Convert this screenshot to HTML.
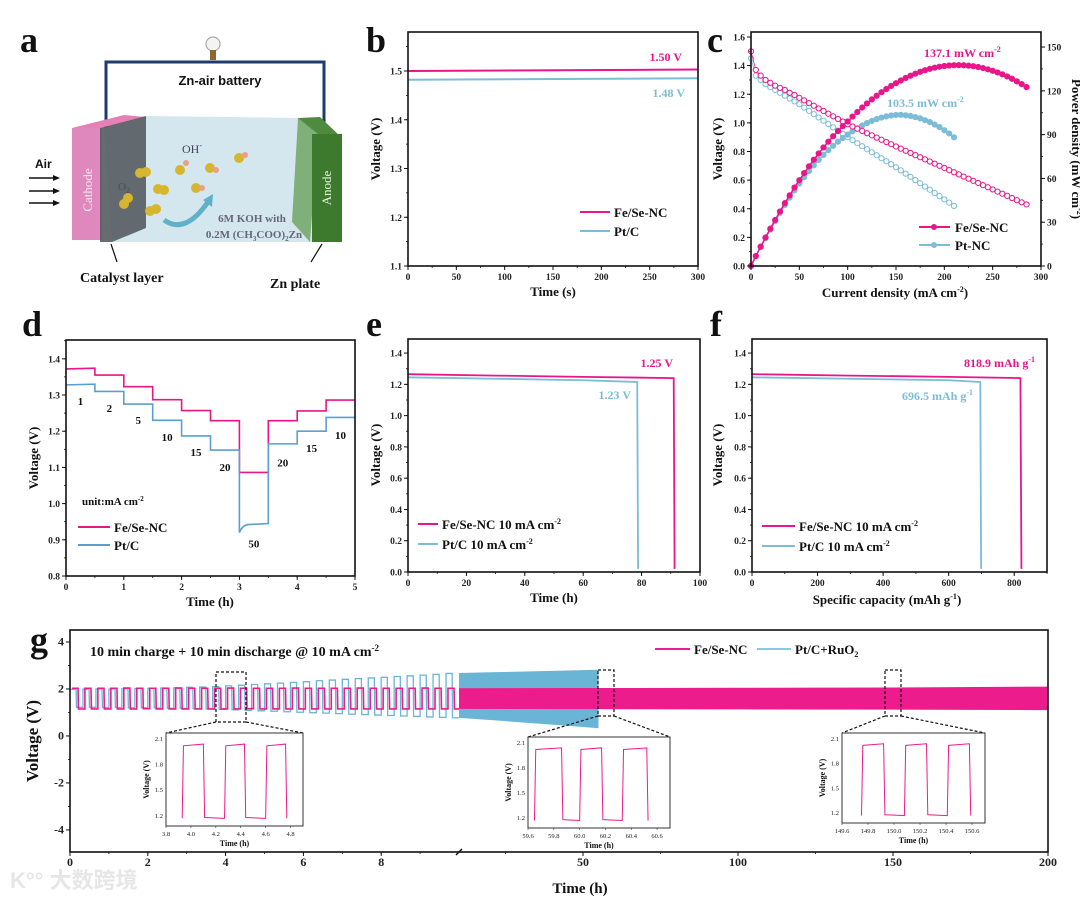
<!DOCTYPE html>
<html><head><meta charset="utf-8"><style>
html,body{margin:0;padding:0;background:#fff;}
svg{display:block;font-family:"Liberation Serif",serif;}
.tk{font-size:9.5px;font-weight:bold;fill:#222;}
.at{font-size:13px;font-weight:bold;fill:#111;}
.pl{font-size:36px;font-weight:bold;fill:#111;}
.lg{font-size:13px;font-weight:bold;fill:#111;}
</style></head><body>
<svg id="fig" width="1080" height="900" viewBox="0 0 1080 900">
<rect x="0" y="0" width="1080" height="900" fill="#fff"/>

<!-- Panel a schematic -->
<g>
<text x="20" y="52" class="pl">a</text>
<polyline points="106,128 106,62 324,62 324,135" fill="none" stroke="#1e3a6e" stroke-width="3"/>
<circle cx="213" cy="44" r="7" fill="#f4f4f0" stroke="#999" stroke-width="1"/>
<rect x="210" y="50" width="6" height="10" fill="#8a6a30"/>
<text x="220" y="85" text-anchor="middle" font-family="Liberation Sans,sans-serif" font-size="13" font-weight="bold" fill="#111">Zn-air battery</text>
<polygon points="104,128 146,116 298,118 340,136 340,242 112,242" fill="#cfe4ec" opacity="0.9"/>
<polygon points="72,128 124,115 146,117 100,128" fill="#e880b8"/>
<rect x="72" y="128" width="30" height="112" fill="#df88bd"/>
<text transform="translate(92,190) rotate(-90)" text-anchor="middle" font-size="13" fill="#f5e6ef">Cathode</text>
<polygon points="100,128 146,116 146,228 112,242 100,242" fill="#555c60" opacity="0.9"/>
<polygon points="298,118 318,133 310,242 292,222" fill="#7fb07a"/>
<polygon points="298,118 320,117 342,138 318,134" fill="#4f8a3f"/>
<rect x="312" y="134" width="30" height="108" fill="#3e7a2e"/>
<text transform="translate(331,188) rotate(-90)" text-anchor="middle" font-size="13" fill="#e6f0e0">Anode</text>
<g fill="#d6b62e">
<circle cx="140" cy="173" r="5"/><circle cx="146" cy="172" r="5"/>
<circle cx="158" cy="189" r="5"/><circle cx="164" cy="190" r="5"/>
<circle cx="124" cy="204" r="5"/><circle cx="128" cy="198" r="5"/>
<circle cx="150" cy="211" r="5"/><circle cx="156" cy="209" r="5"/>
<circle cx="180" cy="170" r="5"/><circle cx="210" cy="168" r="5"/><circle cx="196" cy="188" r="5"/><circle cx="239" cy="158" r="5"/>
</g>
<g fill="#e8a08a">
<circle cx="186" cy="163" r="3"/><circle cx="216" cy="170" r="3"/><circle cx="202" cy="188" r="3"/><circle cx="245" cy="155" r="3"/>
</g>
<text x="182" y="153" font-size="12" fill="#445">OH<tspan dy="-5" font-size="8">-</tspan></text>
<text x="118" y="190" font-size="11" fill="#4a5256">O<tspan dy="3" font-size="8">2</tspan></text>
<path d="M164,220 Q185,235 208,202" fill="none" stroke="#5fb0c8" stroke-width="5"/>
<polygon points="203,200 213,194 212,207" fill="#5fb0c8"/>
<text x="252" y="222" text-anchor="middle" font-size="11" font-weight="bold" fill="#667">6M KOH with</text>
<text x="254" y="238" text-anchor="middle" font-size="11" font-weight="bold" fill="#667">0.2M (CH<tspan dy="3" font-size="7">3</tspan><tspan dy="-3">COO)</tspan><tspan dy="3" font-size="7">2</tspan><tspan dy="-3">Zn</tspan></text>
<text x="35" y="168" font-family="Liberation Sans,sans-serif" font-size="12" font-weight="bold" fill="#111">Air</text>
<g stroke="#111" stroke-width="1.5">
<line x1="29" y1="178" x2="56" y2="178"/><line x1="29" y1="191" x2="56" y2="191"/><line x1="29" y1="203" x2="56" y2="203"/>
</g>
<g fill="#111"><polygon points="60,178 53,175 53,181"/><polygon points="60,191 53,188 53,194"/><polygon points="60,203 53,200 53,206"/></g>
<line x1="111" y1="244" x2="117" y2="262" stroke="#111" stroke-width="1.2"/>
<line x1="322" y1="244" x2="311" y2="262" stroke="#111" stroke-width="1.2"/>
<text x="80" y="282" font-size="14" font-weight="bold" fill="#111">Catalyst layer</text>
<text x="270" y="288" font-size="14" font-weight="bold" fill="#111">Zn plate</text>
</g>

<text x="366" y="52" class="pl">b</text>
<text x="707" y="52" class="pl">c</text>
<text x="22" y="336" class="pl">d</text>
<text x="366" y="336" class="pl">e</text>
<text x="710" y="336" class="pl">f</text>
<text x="30" y="652" class="pl">g</text>

<g id="pb"></g>
<g id="pc"></g>
<g id="pd"></g>
<g id="pe"></g>
<g id="pf"></g>
<g id="pg"></g>

<!-- panel b text -->
<text transform="translate(380,149) rotate(-90)" text-anchor="middle" class="at">Voltage (V)</text>
<text x="553" y="296" text-anchor="middle" class="at">Time (s)</text>
<text x="682" y="61" text-anchor="end" font-size="12" font-weight="bold" fill="#e8168a">1.50 V</text>
<text x="685" y="97" text-anchor="end" font-size="12" font-weight="bold" fill="#7bbcd6">1.48 V</text>
<g>
<line x1="580" y1="212" x2="610" y2="212" stroke="#e8168a" stroke-width="2"/><text x="614" y="217" class="lg">Fe/Se-NC</text>
<line x1="580" y1="231" x2="610" y2="231" stroke="#7bbcd6" stroke-width="2"/><text x="614" y="236" class="lg">Pt/C</text>
</g>

<!-- panel c text -->
<text transform="translate(722,149) rotate(-90)" text-anchor="middle" class="at">Voltage (V)</text>
<text transform="translate(1072,149) rotate(90)" text-anchor="middle" class="at">Power density (mW cm<tspan dy="-5" font-size="8">-2</tspan><tspan dy="5">)</tspan></text>
<text x="895" y="297" text-anchor="middle" class="at">Current density (mA cm<tspan dy="-5" font-size="8">-2</tspan><tspan dy="5">)</tspan></text>
<text x="924" y="57" font-size="12" font-weight="bold" fill="#e8168a">137.1 mW cm<tspan dy="-5" font-size="8">-2</tspan></text>
<text x="887" y="107" font-size="12" font-weight="bold" fill="#7bbcd6">103.5 mW cm<tspan dy="-5" font-size="8">-2</tspan></text>
<g>
<line x1="919" y1="227" x2="950" y2="227" stroke="#e8168a" stroke-width="2"/><circle cx="934" cy="227" r="3" fill="#e8168a"/><text x="955" y="232" class="lg">Fe/Se-NC</text>
<line x1="919" y1="245" x2="950" y2="245" stroke="#7bbcd6" stroke-width="2"/><circle cx="934" cy="245" r="3" fill="#7bbcd6"/><text x="955" y="250" class="lg">Pt-NC</text>
</g>

<!-- panel d text -->
<text transform="translate(38,458) rotate(-90)" text-anchor="middle" class="at">Voltage (V)</text>
<text x="210" y="606" text-anchor="middle" class="at">Time (h)</text>
<text x="82" y="505" font-size="11" font-weight="bold" fill="#111">unit:mA cm<tspan dy="-4" font-size="7">-2</tspan></text>
<g>
<line x1="78" y1="527" x2="110" y2="527" stroke="#e8168a" stroke-width="2"/><text x="114" y="532" class="lg">Fe/Se-NC</text>
<line x1="78" y1="545" x2="110" y2="545" stroke="#5a9fd0" stroke-width="2"/><text x="114" y="550" class="lg">Pt/C</text>
</g>

<!-- panel e text -->
<text transform="translate(380,455) rotate(-90)" text-anchor="middle" class="at">Voltage (V)</text>
<text x="554" y="602" text-anchor="middle" class="at">Time (h)</text>
<text x="673" y="367" text-anchor="end" font-size="12" font-weight="bold" fill="#e8168a">1.25 V</text>
<text x="631" y="399" text-anchor="end" font-size="12" font-weight="bold" fill="#7bbcd6">1.23 V</text>
<g>
<line x1="418" y1="524" x2="438" y2="524" stroke="#e8168a" stroke-width="2"/><text x="442" y="529" class="lg">Fe/Se-NC 10 mA cm<tspan dy="-5" font-size="8">-2</tspan></text>
<line x1="418" y1="544" x2="438" y2="544" stroke="#7bbcd6" stroke-width="2"/><text x="442" y="549" class="lg">Pt/C 10 mA cm<tspan dy="-5" font-size="8">-2</tspan></text>
</g>

<!-- panel f text -->
<text transform="translate(722,455) rotate(-90)" text-anchor="middle" class="at">Voltage (V)</text>
<text x="887" y="604" text-anchor="middle" class="at">Specific capacity (mAh g<tspan dy="-5" font-size="8">-1</tspan><tspan dy="5">)</tspan></text>
<text x="1035" y="367" text-anchor="end" font-size="12" font-weight="bold" fill="#e8168a">818.9 mAh g<tspan dy="-5" font-size="8">-1</tspan></text>
<text x="973" y="400" text-anchor="end" font-size="12" font-weight="bold" fill="#7bbcd6">696.5 mAh g<tspan dy="-5" font-size="8">-1</tspan></text>
<g>
<line x1="762" y1="526" x2="795" y2="526" stroke="#e8168a" stroke-width="2"/><text x="799" y="531" class="lg">Fe/Se-NC 10 mA cm<tspan dy="-5" font-size="8">-2</tspan></text>
<line x1="762" y1="546" x2="795" y2="546" stroke="#7bbcd6" stroke-width="2"/><text x="799" y="551" class="lg">Pt/C 10 mA cm<tspan dy="-5" font-size="8">-2</tspan></text>
</g>

<!-- panel g text -->
<text transform="translate(38,741) rotate(-90)" text-anchor="middle" font-size="17" font-weight="bold" fill="#111">Voltage (V)</text>
<text x="580" y="893" text-anchor="middle" font-size="15" font-weight="bold" fill="#111">Time (h)</text>
<text x="90" y="656" font-size="14" font-weight="bold" fill="#111">10 min charge + 10 min discharge @ 10 mA cm<tspan dy="-5" font-size="9">-2</tspan></text>
<g>
<line x1="655" y1="649" x2="690" y2="649" stroke="#ec1c8c" stroke-width="2"/><text x="694" y="654" class="lg">Fe/Se-NC</text>
<line x1="757" y1="649" x2="791" y2="649" stroke="#6ab4d6" stroke-width="1.5"/><text x="795" y="654" class="lg">Pt/C+RuO<tspan dy="3" font-size="8">2</tspan></text>
</g>
<text x="10" y="888" font-family="Liberation Sans,'Noto Sans CJK SC',sans-serif" font-size="22" font-weight="bold" fill="#e6e6e6">K°° 大数跨境</text>
</svg>

<script>
const NS='http://www.w3.org/2000/svg';
const PINK='#e8168a', BLUE='#7bbcd6', DBLUE='#5a9fd0';

// ===== Panel b data =====
const bTime=[0,300];
const bFe=[1.500,1.503];
const bPt=[1.482,1.485];
const bXTicks=[0,50,100,150,200,250,300];
const bYTicks=[1.1,1.2,1.3,1.4,1.5];

// ===== Panel c data =====
const cJFe=[0,5,10,15,20,25,30,35,40,45,50,55,60,65,70,75,80,85,90,95,100,105,110,115,120,125,130,135,140,145,150,155,160,165,170,175,180,185,190,195,200,205,210,215,220,225,230,235,240,245,250,255,260,265,270,275,280,285];
const cVFe=[1.50,1.37,1.33,1.30,1.28,1.26,1.245,1.23,1.21,1.195,1.175,1.157,1.138,1.12,1.101,1.083,1.064,1.046,1.027,1.009,0.99,0.975,0.959,0.944,0.928,0.913,0.897,0.882,0.866,0.851,0.835,0.82,0.805,0.79,0.775,0.76,0.745,0.73,0.715,0.70,0.685,0.67,0.655,0.64,0.625,0.61,0.595,0.58,0.565,0.55,0.535,0.52,0.505,0.49,0.475,0.46,0.445,0.43];
const cJPt=[0,5,10,15,20,25,30,35,40,45,50,55,60,65,70,75,80,85,90,95,100,105,110,115,120,125,130,135,140,145,150,155,160,165,170,175,180,185,190,195,200,205,210];
const cVPt=[1.45,1.33,1.30,1.27,1.25,1.23,1.21,1.19,1.17,1.15,1.13,1.107,1.084,1.061,1.038,1.015,0.992,0.969,0.946,0.923,0.90,0.879,0.858,0.837,0.816,0.795,0.774,0.753,0.732,0.711,0.69,0.668,0.645,0.623,0.60,0.578,0.555,0.533,0.51,0.488,0.465,0.443,0.42];
const cXTicks=[0,50,100,150,200,250,300];
const cYTicks=[0,0.2,0.4,0.6,0.8,1.0,1.2,1.4,1.6];
const cY2Ticks=[0,30,60,90,120,150];

// ===== Panel d data =====
const dStepStart=[0,0.5,1,1.5,2,2.5,3,3.5,4,4.5];
const dFe=[1.372,1.355,1.323,1.287,1.257,1.229,1.086,1.229,1.256,1.286];
const dPt=[1.328,1.310,1.275,1.230,1.187,1.148,0.945,1.165,1.200,1.238];
const dCurrents=['1','2','5','10','15','20','50','20','15','10'];
const dLabelV=[1.283,1.264,1.231,1.184,1.143,1.101,0.89,1.114,1.154,1.19];
const dXTicks=[0,1,2,3,4,5];
const dYTicks=[0.8,0.9,1.0,1.1,1.2,1.3,1.4];

// ===== Panel e data =====
const eFeT=[0,30,60,91,91.3];
const eFeV=[1.265,1.256,1.248,1.240,0.02];
const ePtT=[0,30,60,78.5,78.8];
const ePtV=[1.245,1.236,1.226,1.215,0.02];
const eXTicks=[0,20,40,60,80,100];
const eYTicks=[0,0.2,0.4,0.6,0.8,1.0,1.2,1.4];

// ===== Panel f data =====
const fFeC=[0,300,600,818.9,822];
const fFeV=[1.265,1.256,1.248,1.240,0.02];
const fPtC=[0,300,600,696.5,699];
const fPtV=[1.245,1.236,1.226,1.215,0.02];
const fXTicks=[0,200,400,600,800];
const fYTicks=[0,0.2,0.4,0.6,0.8,1.0,1.2,1.4];

// ===== Panel g data =====
const gPinkHi=[2.03,2.03,2.03,2.03,2.04,2.03,2.03,2.03,2.04,2.03,2.03,2.03,2.04,2.03,2.03,2.03,2.03,2.04,2.03,2.03,2.03,2.03,2.04,2.03,2.03,2.03,2.03,2.04,2.03,2.03];
const gPinkLo=[1.15,1.15,1.15,1.15,1.15,1.16,1.15,1.15,1.15,1.15,1.15,1.15,1.15,1.16,1.15,1.15,1.15,1.15,1.15,1.15,1.15,1.15,1.15,1.15,1.15,1.15,1.15,1.15,1.15,1.15];
const gBlueHi=[1.98,1.99,2.0,2.0,2.01,2.02,2.03,2.04,2.05,2.07,2.08,2.1,2.13,2.16,2.19,2.22,2.25,2.28,2.31,2.35,2.38,2.41,2.44,2.47,2.5,2.53,2.56,2.59,2.62,2.66];
const gBlueLo=[1.22,1.22,1.21,1.21,1.2,1.2,1.19,1.18,1.17,1.16,1.15,1.13,1.11,1.09,1.07,1.05,1.03,1.01,0.99,0.97,0.95,0.93,0.91,0.89,0.87,0.85,0.83,0.81,0.79,0.77];
const gBandBlueT=[10,20,30,40,50,55];
const gBandBlueHi=[2.68,2.71,2.74,2.77,2.80,2.82];
const gBandBlueLo=[0.77,0.68,0.58,0.48,0.38,0.33];
const gBandPinkT=[10,50,100,150,200];
const gBandPinkHi=[2.03,2.04,2.05,2.06,2.10];
const gBandPinkLo=[1.15,1.14,1.13,1.12,1.10];
const gXTicksA=[0,2,4,6,8];
const gXTicksB=[50,100,150,200];
const gYTicks=[-4,-2,0,2,4];
const ins1T=[3.93,3.94,4.10,4.11,4.27,4.28,4.43,4.44,4.60,4.61,4.76,4.77];
const ins2T=[59.65,59.66,59.86,59.87,60.00,60.01,60.17,60.18,60.33,60.34,60.52,60.53];
const ins3T=[149.75,149.76,149.92,149.93,150.08,150.09,150.25,150.26,150.41,150.42,150.58,150.59];
const insV=[1.17,2.02,2.04,1.18,1.17,2.02,2.04,1.18,1.17,2.02,2.04,1.17];
const ins1Ticks=[3.8,4.0,4.2,4.4,4.6,4.8];
const ins2Ticks=[59.6,59.8,60.0,60.2,60.4,60.6];
const ins3Ticks=[149.6,149.8,150.0,150.2,150.4,150.6];
const insYTicks=[1.2,1.5,1.8,2.1];

function mk(tag,attrs,parent){const e=document.createElementNS(NS,tag);for(const k in attrs)e.setAttribute(k,attrs[k]);parent.appendChild(e);return e;}
function lin(d0,d1,r0,r1){return v=>r0+(v-d0)*(r1-r0)/(d1-d0);}

function frame(p,X0,X1,Y0,Y1,name){
  const r=mk('rect',{x:X0,y:Y1,width:X1-X0,height:Y0-Y1,fill:'none',stroke:'#111','stroke-width':1.6},p);
  
  
}
function xTicks(p,xs,ticks,Y0,fmt,name,minorStep,xmin,xmax,fs){
  ticks.forEach(t=>{
    const x=xs(t);
    const l=mk('line',{x1:x,y1:Y0,x2:x,y2:Y0+4,stroke:'#111','stroke-width':1},p);
    
    
    const tx=mk('text',{x:x,y:Y0+14,'text-anchor':'middle',class:'tk'},p);
    if(fs)tx.setAttribute('style','font-size:'+fs+'px');
    tx.textContent=fmt(t);
    
    
  });
  if(minorStep){for(let v=xmin;v<=xmax+1e-9;v+=minorStep){const x=xs(v);
    const m=mk('line',{x1:x,y1:Y0,x2:x,y2:Y0+2,stroke:'#111','stroke-width':0.8},p);
    
    }}
}
function yTicks(p,ys,ticks,X0,fmt,name,minorStep,ymin,ymax,right,fs){
  const dir=right?1:-1;
  ticks.forEach(t=>{
    const y=ys(t);
    const l=mk('line',{x1:X0,y1:y,x2:X0+4*dir,y2:y,stroke:'#111','stroke-width':1},p);
    
    
    const tx=mk('text',{x:X0+6*dir,y:y+3.5,'text-anchor':right?'start':'end',class:'tk'},p);
    if(fs)tx.setAttribute('style','font-size:'+fs+'px');
    tx.textContent=fmt(t);
    
    
  });
  if(minorStep){for(let v=ymin;v<=ymax+1e-9;v+=minorStep){const y=ys(v);
    const m=mk('line',{x1:X0,y1:y,x2:X0+2*dir,y2:y,stroke:'#111','stroke-width':0.8},p);
    
    }}
}
function path(xs,ys,X,Y){return X.map((v,i)=>(i?'L':'M')+xs(v).toFixed(2)+','+ys(Y[i]).toFixed(2)).join('');}
const f1=v=>v.toFixed(1), f0=v=>String(v);

// ---- Panel b ----
(function(){
  const p=document.getElementById('pb');
  const X0=408,X1=698,Y0=266,Y1=32;
  const xs=lin(0,300,X0,X1), ys=lin(1.1,1.58,Y0,Y1);
  const a=mk('path',{d:path(xs,ys,bTime,bFe),stroke:PINK,'stroke-width':2,fill:'none'},p);
  
  
  const b=mk('path',{d:path(xs,ys,bTime,bPt),stroke:BLUE,'stroke-width':2,fill:'none'},p);
  
  
  frame(p,X0,X1,Y0,Y1,'b');
  xTicks(p,xs,bXTicks,Y0,f0,'b',25,0,300);
  yTicks(p,ys,bYTicks,X0,f1,'b',0.05,1.1,1.55);
})();

// ---- Panel c ----
(function(){
  const p=document.getElementById('pc');
  const X0=751,X1=1041,Y0=266,Y1=32;
  const xs=lin(0,300,X0,X1), ys=lin(0,1.635,Y0,Y1), ys2=lin(0,160.3,Y0,Y1);
  function series(J,V,col,nm){
    const pv=mk('path',{d:path(xs,ys,J,V),stroke:col,'stroke-width':0.8,fill:'none'},p);
    
    
    const P=J.map((j,i)=>j*V[i]);
    const pp=mk('path',{d:path(xs,ys2,J,P),stroke:col,'stroke-width':1.5,fill:'none'},p);
    
    
    J.forEach((j,i)=>{
      const c=mk('circle',{cx:xs(j),cy:ys(V[i]),r:2.6,fill:'#fff',stroke:col,'stroke-width':1},p);
      
      
      const d=mk('circle',{cx:xs(j),cy:ys2(P[i]),r:2.8,fill:col,stroke:col,'stroke-width':0.6},p);
      
      
    });
  }
  series(cJPt,cVPt,BLUE,'c-pt');
  series(cJFe,cVFe,PINK,'c-fe');
  frame(p,X0,X1,Y0,Y1,'c');
  xTicks(p,xs,cXTicks,Y0,f0,'c',25,0,300);
  yTicks(p,ys,cYTicks,X0,f1,'c',0.1,0,1.6);
  yTicks(p,ys2,cY2Ticks,X1,f0,'c-right',15,0,150,true);
})();

// ---- Panel d ----
(function(){
  const p=document.getElementById('pd');
  const X0=66,X1=355,Y0=576,Y1=340;
  const xs=lin(0,5,X0,X1), ys=lin(0.8,1.452,Y0,Y1);
  function steps(V,col,nm,dip){
    let d='';
    dStepStart.forEach((t,i)=>{
      const t1=i<dStepStart.length-1?dStepStart[i+1]:5;
      if(dip&&i===6){
        d+=(i?'L':'M')+xs(t)+','+ys(V[i]-0.025)+'Q'+xs(t+0.05)+','+ys(V[i]-0.005)+' '+xs(t+0.15)+','+ys(V[i]-0.003)+'L'+xs(t1)+','+ys(V[i]);
      } else {
        d+=(i?'L':'M')+xs(t)+','+ys(V[i])+'L'+xs(t1)+','+ys(V[i]+ (i===0?0.002:0));
      }
    });
    const e=mk('path',{d:d,stroke:col,'stroke-width':1.6,fill:'none'},p);
    
    
  }
  steps(dFe,PINK,'d-fe-sene-line',false);
  steps(dPt,DBLUE,'d-pt-c-line',true);
  dStepStart.forEach((t,i)=>{
    const tx=mk('text',{x:xs(t+0.25),y:ys(dLabelV[i])+4,'text-anchor':'middle','font-size':11,'font-weight':'bold',fill:'#111'},p);
    tx.textContent=dCurrents[i];
    
    
  });
  frame(p,X0,X1,Y0,Y1,'d');
  xTicks(p,xs,dXTicks,Y0,f0,'d',0.5,0,5);
  yTicks(p,ys,dYTicks,X0,f1,'d',0.05,0.8,1.45);
})();

// ---- Panels e, f ----
function discharge(id,pref,X0,X1,xmax,T1,V1,T2,V2,ticks,minor){
  const p=document.getElementById(id);
  const Y0=572,Y1=339;
  const xs=lin(0,xmax,X0,X1), ys=lin(0,1.49,Y0,Y1);
  const a=mk('path',{d:path(xs,ys,T2,V2),stroke:BLUE,'stroke-width':1.8,fill:'none'},p);
  
  
  const b=mk('path',{d:path(xs,ys,T1,V1),stroke:PINK,'stroke-width':1.8,fill:'none'},p);
  
  
  frame(p,X0,X1,Y0,Y1,pref);
  xTicks(p,xs,ticks,Y0,f0,pref,minor,0,xmax);
  yTicks(p,ys,pref==='e'?eYTicks:fYTicks,X0,f1,pref,0.1,0,1.4);
}
discharge('pe','e',408,700,100,eFeT,eFeV,ePtT,ePtV,eXTicks,10);
discharge('pf','f',752,1047,900,fFeC,fFeV,fPtC,fPtV,fXTicks,100);

// ---- Panel g ----
(function(){
  const p=document.getElementById('pg');
  const X0=70,XB=459,X1=1048,Y0=852,Y1=630;
  const xsA=lin(0,10,X0,XB), xsB=lin(10,200,XB,X1);
  const xs=t=>t<=10?xsA(t):xsB(t);
  const ys=lin(-4.94,4.51,Y0,Y1);
  function wave(Hi,Lo,col,phase,nm,w){
    let d='';
    Hi.forEach((h,i)=>{
      const t0=i/3+phase, tm=t0+1/6, t1=t0+1/3;
      d+=(i?'L':'M')+xs(t0)+','+ys(h)+'L'+xs(tm-0.01)+','+ys(h)+'L'+xs(tm)+','+ys(Lo[i])+'L'+xs(Math.min(t1,10))+','+ys(Lo[i]);
    });
    const e=mk('path',{d:d,stroke:col,'stroke-width':w,fill:'none'},p);
    
    
  }
  wave(gBlueHi,gBlueLo,'#6ab4d6',0.0,'g-pt-ruo2-cycles',1.3);
  wave(gPinkHi,gPinkLo,'#ec1c8c',0.05,'g-fe-sene-cycles',1.6);
  function band(T,Hi,Lo,col,nm){
    const up=T.map((t,i)=>xs(t)+','+ys(Hi[i]));
    const dn=T.map((t,i)=>xs(t)+','+ys(Lo[i])).reverse();
    const e=mk('polygon',{points:up.concat(dn).join(' '),fill:col},p);
    
    
  }
  band(gBandBlueT,gBandBlueHi,gBandBlueLo,'#6ab4d6','g-pt-ruo2-band');
  band(gBandPinkT,gBandPinkHi,gBandPinkLo,'#ec1c8c','g-fe-sene-band');
  frame(p,X0,X1,Y0,Y1,'g');
  const br=mk('line',{x1:XB-3,y1:Y0+3,x2:XB+3,y2:Y0-3,stroke:'#111','stroke-width':1.5},p);
  
  
  xTicks(p,xsA,gXTicksA,Y0,f0,'g',1,0,9,12);
  xTicks(p,xsB,gXTicksB,Y0,f0,'g-b',25,25,200,12);
  yTicks(p,ys,gYTicks,X0,f0,'g',1,-4,4,false,12);

  function inset(T,ticks,bx0,bx1,by0,by1,zx0,zx1,zy0,zy1,nm){
    const xi=lin(ticks[0],ticks[0]+1.1,bx0,bx1), yi=lin(1.08,2.17,by1,by0);
    const dz=mk('rect',{x:zx0,y:zy0,width:zx1-zx0,height:zy1-zy0,fill:'none',stroke:'#111','stroke-width':1.2,'stroke-dasharray':'3,2'},p);
    
    
    const c1=mk('line',{x1:zx0,y1:zy1,x2:bx0,y2:by0,stroke:'#111','stroke-width':1.2,'stroke-dasharray':'3,2'},p);
    
    
    const c2=mk('line',{x1:zx1,y1:zy1,x2:bx1,y2:by0,stroke:'#111','stroke-width':1.2,'stroke-dasharray':'3,2'},p);
    
    
    const bg=mk('rect',{x:bx0,y:by0,width:bx1-bx0,height:by1-by0,fill:'#fff',stroke:'#333','stroke-width':1},p);
    
    
    const w=mk('path',{d:path(xi,yi,T,insV),stroke:'#ec1c8c','stroke-width':1,fill:'none'},p);
    
    
    ticks.forEach(t=>{
      const tx=mk('text',{x:xi(t),y:by1+10,'text-anchor':'middle','font-size':6.5,fill:'#222'},p);
      tx.textContent=t.toFixed(1);
      
      
      const l=mk('line',{x1:xi(t),y1:by1,x2:xi(t),y2:by1+2,stroke:'#333','stroke-width':0.6},p);
      
      
    });
    insYTicks.forEach(t=>{
      const tx=mk('text',{x:bx0-3,y:yi(t)+2,'text-anchor':'end','font-size':6.5,fill:'#222'},p);
      tx.textContent=t.toFixed(1);
      
      
    });
    const xt=mk('text',{x:(bx0+bx1)/2,y:by1+20,'text-anchor':'middle','font-size':8,'font-weight':'bold',fill:'#111'},p);
    xt.textContent='Time (h)';
    
    
    const yt=mk('text',{transform:'translate('+(bx0-17)+','+((by0+by1)/2)+') rotate(-90)','text-anchor':'middle','font-size':8,'font-weight':'bold',fill:'#111'},p);
    yt.textContent='Voltage (V)';
    
    
  }
  inset(ins1T,ins1Ticks,166,303,733,826,216,246,672,722,'g-inset-1');
  inset(ins2T,ins2Ticks,528,670,737,828,598,614,670,716,'g-inset-2');
  inset(ins3T,ins3Ticks,842,985,733,823,885,901,670,716,'g-inset-3');
})();
</script>
</body></html>
